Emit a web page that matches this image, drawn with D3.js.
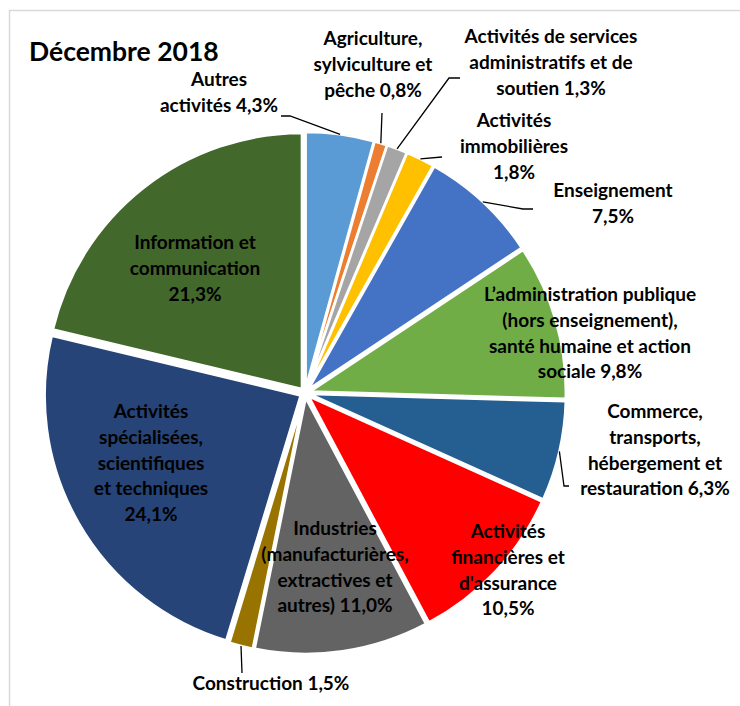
<!DOCTYPE html>
<html>
  <head>
    <meta charset="utf-8">
    <title></title>
    <style>
      body { margin: 0; background: #fff; }
      text { font-family: Lato, "Open Sans", sans-serif; font-weight: bold; fill: #000; }
    </style>
  </head>
  <body>
    <div id="chart"></div>
    <script src="https://d3js.org/d3.v7.min.js"></script>
    <script>

      // categories in clockwise order from 12 o'clock ("|" = line break, value goes on last line)
      const categories = [
        "Autres|activités",
        "Agriculture,|sylviculture et|pêche",
        "Activités de services|administratifs et de|soutien",
        "Activités|immobilières|",
        "Enseignement|",
        "L’administration publique|(hors enseignement),|santé humaine et action|sociale",
        "Commerce,|transports,|hébergement et|restauration",
        "Activités|financières et|d'assurance|",
        "Industries|(manufacturières,|extractives et|autres)",
        "Construction",
        "Activités|spécialisées,|scientifiques|et techniques|",
        "Information et|communication|"
      ];
      const values = [4.3, 0.8, 1.3, 1.8, 7.5, 9.8, 6.3, 10.5, 11.0, 1.5, 24.1, 21.3];
      const colors = ["#5B9BD5", "#ED7D31", "#A5A5A5", "#FFC000", "#4472C4", "#70AD47",
                      "#255E91", "#FF0000", "#636363", "#997300", "#264478", "#43682B"];

      // label placement (manual, like the dragged excel labels): center x, first baseline
      const labelPos = [
        [219, 86], [373, 45], [551, 43], [514, 127], [613, 197], [590, 301],
        [655, 418], [508, 538], [335, 535], [271, 690], [151, 418], [195, 249]
      ];
      // leader line points on the label side, null = no leader
      const leaders = [
        [[281, 116], [290, 116]], [[382, 113]], [[460, 78], [449, 78]], [[442, 157]],
        [[533, 209], [523, 209]], null, [[569, 486], [564, 486]], null, null,
        [[242, 673]], null, null
      ];

      const width = 740;
      const height = 706;
      const cx = 305, cy = 393;
      const radius = 256;
      const explode = 5;
      const lineH = 25.8;

      const svg = d3.select('#chart')
                    .append('svg')
                    .attr('width', width)
                    .attr('height', height);

      // chart area border (only top and left are visible in the crop)
      svg.append('path')
        .attr('d', `M9.5,${height} V10.5 H${width}`)
        .attr('fill', 'none')
        .attr('stroke', '#D9D9D9')
        .attr('stroke-width', 1.5);

      svg.append('text')
        .attr('x', 29)
        .attr('y', 61)
        .style('font-size', '26.5px')
        .text('Décembre 2018');

      const fmt = v => d3.format('.1f')(v).replace('.', ',') + '%';

      const pie = d3.pie().sort(null).value(d => d)(values);
      const arc = d3.arc().innerRadius(0).outerRadius(radius);

      const g = svg.append('g').attr('transform', `translate(${cx},${cy})`);

      g.selectAll('path')
        .data(pie)
        .enter()
        .append('path')
        .attr('d', arc)
        .attr('fill', (d, i) => colors[i])
        .attr('stroke', '#fff')
        .attr('stroke-width', 2.5)
        .attr('transform', d => {
          const a = (d.startAngle + d.endAngle) / 2;
          return `translate(${explode * Math.sin(a)},${-explode * Math.cos(a)})`;
        });

      // leader lines
      pie.forEach((d, i) => {
        if (!leaders[i]) return;
        const a = (d.startAngle + d.endAngle) / 2;
        const r = radius + explode;
        const pts = leaders[i].concat([[cx + r * Math.sin(a), cy - r * Math.cos(a)]]);
        svg.append('path')
          .attr('d', d3.line()(pts))
          .attr('fill', 'none')
          .attr('stroke', '#000')
          .attr('stroke-width', 1.3);
      });

      // labels
      categories.forEach((c, i) => {
        const parts = c.split('|');
        const last = parts.length - 1;
        parts[last] = parts[last] ? parts[last] + ' ' + fmt(values[i]) : fmt(values[i]);
        const t = svg.append('text')
          .attr('text-anchor', 'middle')
          .style('font-size', '19px');
        parts.forEach((p, k) => {
          t.append('tspan')
            .attr('x', labelPos[i][0])
            .attr('y', labelPos[i][1] + k * lineH)
            .text(p);
        });
      });

    </script>
  </body>
</html>
